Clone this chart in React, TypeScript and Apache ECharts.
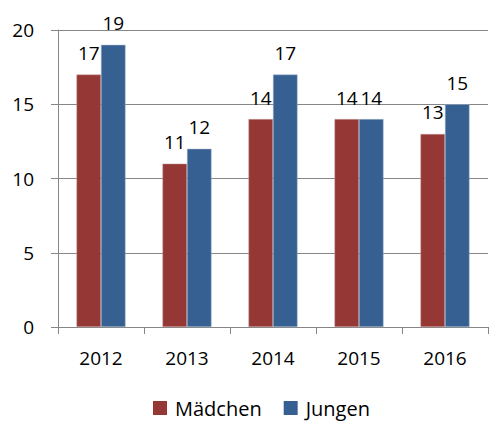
import React, { useEffect, useRef } from "react";
import * as echarts from "echarts";

const categories = ["2012", "2013", "2014", "2015", "2016"];
const maedchen = [17, 11, 14, 14, 13];
const jungen = [19, 12, 17, 14, 15];
const yTicks = { min: 0, max: 20, interval: 5 };

export default function App() {
  const ref = useRef<HTMLDivElement>(null);
  useEffect(() => {
    if (!ref.current) return;
    const chart = echarts.init(ref.current, undefined, { renderer: "svg" });
    const font = "'Open Sans', sans-serif";
    const labelCfg = {
      show: true,
      position: "top" as const,
      distance: 12,
      fontSize: 19,
      fontFamily: font,
      color: "#000",
    };
    chart.setOption({
      animation: false,
      grid: { left: 58, right: 1, top: 30, bottom: 96 },
      legend: {
        bottom: 0,
        left: 148,
        icon: "rect",
        itemWidth: 14,
        itemHeight: 14,
        itemGap: 22,
        itemStyle: { borderWidth: 0 },
        textStyle: { fontSize: 20, fontFamily: font, color: "#000", padding: [0, 0, 0, 3] },
        data: ["Mädchen", "Jungen"],
      },
      xAxis: {
        type: "category",
        data: categories,
        axisLine: { lineStyle: { color: "#868686", width: 1 } },
        axisTick: { show: true, length: 7, lineStyle: { color: "#868686" } },
        axisLabel: { fontSize: 19, fontFamily: font, color: "#000", margin: 21 },
      },
      yAxis: {
        type: "value",
        min: yTicks.min,
        max: yTicks.max,
        interval: yTicks.interval,
        axisLine: { show: true, lineStyle: { color: "#868686", width: 1 } },
        axisTick: { show: true, length: 7, lineStyle: { color: "#868686" } },
        axisLabel: { fontSize: 19, fontFamily: font, color: "#000", margin: 24 },
        splitLine: { show: true, lineStyle: { color: "#868686", width: 1 } },
      },
      series: [
        {
          name: "Mädchen",
          type: "bar",
          data: maedchen,
          barGap: "0%",
          barCategoryGap: "43%",
          itemStyle: { color: "#953735", borderColor: "#c9a3a2", borderWidth: 0.5 },
          label: labelCfg,
        },
        {
          name: "Jungen",
          type: "bar",
          data: jungen,
          barGap: "0%",
          barCategoryGap: "43%",
          itemStyle: { color: "#376092", borderColor: "#a5b7cc", borderWidth: 0.5 },
          label: labelCfg,
        },
      ],
    });
    return () => chart.dispose();
  }, []);
  return <div ref={ref} style={{ width: 489, height: 423, position: "absolute", left: 0, top: 0 }} />;
}
